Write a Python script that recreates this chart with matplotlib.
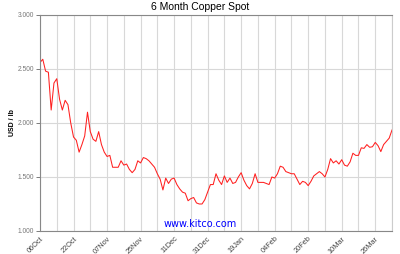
import matplotlib
matplotlib.use("Agg")
import matplotlib.pyplot as plt

# --- data (one value per trading day) ---
copper = [
    2.56, 2.59, 2.48, 2.47, 2.12, 2.37, 2.41, 2.22, 2.12, 2.21,
    2.17, 2.00, 1.87, 1.84, 1.73, 1.80, 1.88, 2.10, 1.92, 1.85,
    1.83, 1.92, 1.80, 1.73, 1.69, 1.70, 1.59, 1.59, 1.59, 1.65,
    1.61, 1.62, 1.57, 1.54, 1.57, 1.65, 1.63, 1.68, 1.67, 1.65,
    1.62, 1.59, 1.53, 1.48, 1.38, 1.49, 1.44, 1.48, 1.49, 1.43,
    1.39, 1.36, 1.35, 1.28, 1.30, 1.31, 1.26, 1.25, 1.25, 1.29,
    1.36, 1.43, 1.43, 1.53, 1.47, 1.43, 1.51, 1.45, 1.49, 1.44,
    1.45, 1.50, 1.54, 1.47, 1.42, 1.39, 1.44, 1.53, 1.45, 1.45,
    1.45, 1.44, 1.43, 1.50, 1.49, 1.53, 1.60, 1.59, 1.55, 1.54,
    1.53, 1.53, 1.48, 1.43, 1.46, 1.45, 1.42, 1.46, 1.51, 1.53,
    1.55, 1.53, 1.50, 1.57, 1.67, 1.63, 1.65, 1.62, 1.66, 1.61,
    1.60, 1.64, 1.72, 1.70, 1.70, 1.77, 1.765, 1.80, 1.775, 1.78,
    1.82, 1.79, 1.735, 1.80, 1.83, 1.86, 1.935,
]
date_labels = ["06Oct", "22Oct", "07Nov", "25Nov", "11Dec", "31Dec",
               "19Jan", "04Feb", "20Feb", "10Mar", "26Mar"]
y_ticks = [1.0, 1.5, 2.0, 2.5, 3.0]

days = list(range(len(copper)))

fig = plt.figure(figsize=(4.0, 2.54), dpi=100)
ax = fig.add_axes([0.10, 0.0906, 0.88, 0.8504])

ax.plot(days, copper, color="#ff2020", lw=0.75)

ax.set_xlim(0, 126)
ax.set_ylim(1.0, 3.0)

# gridlines every 6 trading days, labels every 12
ax.set_xticks(range(0, 127, 6), minor=True)
ax.set_xticks(range(0, 127, 12))
ax.set_xticklabels(date_labels, rotation=45, ha="right", va="top",
                   rotation_mode="anchor", fontsize=5.3, color="#444444",
                   family="Liberation Sans")
ax.set_yticks(y_ticks)
ax.set_yticklabels([f"{v:.3f}" for v in y_ticks], fontsize=4.8,
                   color="#777777", family="Liberation Sans")

ax.grid(True, which="both", axis="x", color="#d8d8d8", lw=0.8)
ax.grid(True, axis="y", color="#d8d8d8", lw=0.8)
ax.set_axisbelow(True)
ax.tick_params(axis="x", which="both", length=0, pad=3)
ax.tick_params(axis="y", length=3, width=0.6, color="#666666", pad=1.5)

for side in ["left", "bottom", "top", "right"]:
    ax.spines[side].set_color("#888888")
    ax.spines[side].set_linewidth(0.8)
ax.spines["right"].set_color("#cccccc")

ax.set_ylabel("USD / lb", fontsize=5, fontweight="bold",
              family="Liberation Sans")
ax.yaxis.set_label_coords(-0.068, 0.5)
fig.text(0.5, 0.972, "6 Month Copper Spot", ha="center", va="center",
         fontsize=7.5, family="Liberation Sans")
fig.text(0.5, 1 - 224 / 254, "www.kitco.com", ha="center", va="center",
         fontsize=7, color="#0000ff", family="DejaVu Sans")

fig.savefig("out.png", dpi=100)
